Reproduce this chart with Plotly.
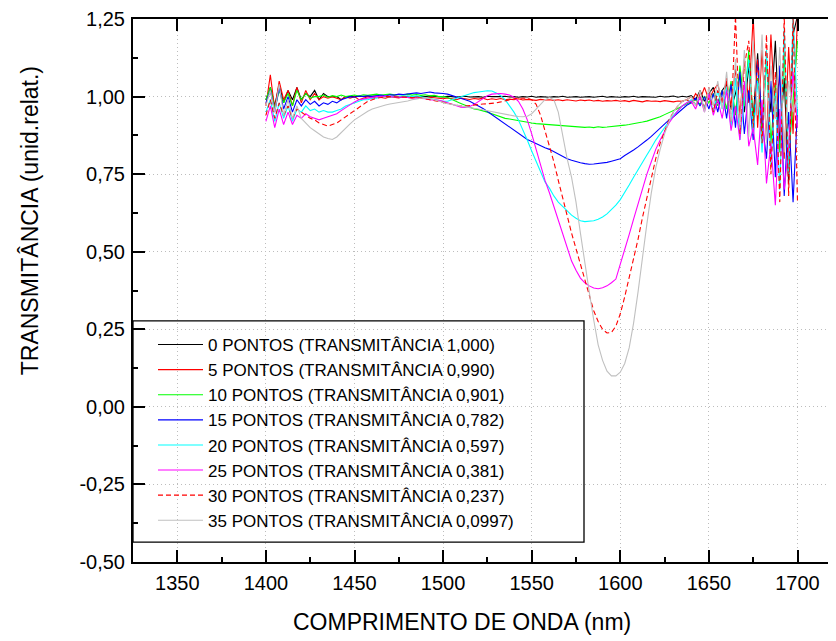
import plotly.graph_objects as go

# ---------------- data ----------------
WAVELENGTH = [1400 + 2.5 * i for i in range(121)]  # nm sampling grid 1400..1700

T_00 = [0.99, 1.03, 0.97, 1.04, 0.98, 1.02, 0.99, 1.03,
        0.99, 1.01, 1.00, 1.02, 0.99, 1.01, 1.00, 1.00,
        1.00, 0.99, 1.00, 1.00, 1.00, 1.00, 1.00, 1.00,
        1.0, 1.002, 0.999, 1.001, 1.0, 1.002, 1.0, 0.999,
        1.001, 1.0, 0.999, 1.001, 1.0, 1.002, 1.0, 1.0,
        0.999, 1.001, 1.0, 0.998, 1.0, 1.001, 0.999, 1.0,
        1.0, 0.998, 1.001, 1.0, 0.999, 1.0, 1.001, 0.999,
        1.0, 0.998, 1.0, 0.999, 1.001, 0.998, 1.0, 0.999,
        0.998, 1.0, 0.999, 1.001, 0.998, 0.999, 1.0, 0.998,
        0.999, 1.0, 0.998, 0.999, 1.001, 0.998, 1.0, 0.999,
        0.998, 1.0, 0.999, 1.001, 0.998, 1.0, 0.999, 1.0,
        0.998, 1.001, 0.999, 1.0, 1.002, 0.998, 1.001, 0.999,
        1.003, 0.99, 1.02, 0.985, 1.01, 1.03, 0.98, 1.02,
        1.04, 0.96, 1.01, 1.07, 0.95, 1.10, 0.93, 1.14,
        0.90, 1.12, 0.95, 1.18, 0.85, 1.06, 0.72, 1.20,
        1.26]

T_05 = [0.97, 1.07, 0.96, 1.05, 0.99, 1.02, 0.97, 1.03,
        0.98, 1.02, 0.99, 1.01, 0.99, 1.00, 0.995, 1.00,
        0.995, 0.99, 1.00, 0.995, 1.0, 0.99, 0.995, 1.0,
        0.995, 1.0, 0.997, 0.995, 1.0, 0.998, 0.996, 1.0,
        0.998, 0.995, 1.0, 0.997, 0.995, 0.998, 0.996, 0.995,
        0.993, 0.996, 0.994, 0.99, 0.995, 0.993, 0.991, 0.994,
        0.992, 0.995, 0.99, 0.993, 0.991, 0.994, 0.99, 0.992,
        0.99, 0.993, 0.989, 0.991, 0.99, 0.988, 0.991, 0.989,
        0.99, 0.988, 0.99, 0.987, 0.99, 0.988, 0.986, 0.989,
        0.987, 0.989, 0.986, 0.988, 0.985, 0.987, 0.986, 0.988,
        0.985, 0.987, 0.984, 0.988, 0.985, 0.983, 0.987, 0.985,
        0.986, 0.984, 0.987, 0.985, 0.983, 0.986, 0.985, 0.99,
        0.98, 1.01, 0.99, 1.03, 0.99, 1.02, 1.04, 0.98,
        1.05, 0.97, 1.09, 0.94, 1.12, 0.98, 1.26, 0.90,
        1.15, 0.86, 1.20, 0.93, 1.08, 0.80, 1.16, 0.88,
        1.26]

T_10 = [0.99, 1.03, 0.96, 1.02, 0.98, 1.01, 0.97, 1.02,
        0.99, 1.01, 0.995, 1.00, 1.0, 1.005, 0.998, 1.003,
        1.0, 1.005, 1.0, 1.003, 1.005, 1.002, 1.006, 1.004,
        1.005, 1.008, 1.005, 1.006, 1.008, 1.006, 1.007, 1.005,
        1.008, 1.005, 1.007, 1.004, 1.006, 1.003, 1.004, 1.0,
        1.0, 0.997, 0.99, 0.985, 0.978, 0.972, 0.966, 0.96,
        0.958, 0.955, 0.95, 0.945, 0.94, 0.935, 0.93, 0.928,
        0.925, 0.922, 0.92, 0.918, 0.915, 0.913, 0.912, 0.91,
        0.909, 0.908, 0.906, 0.905, 0.904, 0.903, 0.902, 0.903,
        0.901, 0.902, 0.9, 0.903, 0.901, 0.902, 0.903, 0.904,
        0.906, 0.908, 0.91, 0.912, 0.915, 0.918, 0.921, 0.925,
        0.93, 0.935, 0.942, 0.948, 0.955, 0.962, 0.97, 0.977,
        0.985, 0.99, 0.975, 1.0, 0.98, 1.01, 0.97, 1.02,
        0.96, 1.05, 0.94, 1.10, 0.97, 1.15, 0.92, 1.06,
        0.88, 1.12, 0.85, 1.04, 0.82, 1.14, 0.80, 0.98,
        1.18]

T_15 = [0.98, 1.02, 0.95, 1.03, 0.96, 1.00, 0.95, 0.99,
        0.97, 0.99, 0.975, 0.985, 0.97, 0.98, 0.975, 0.985,
        0.98, 0.99, 0.995, 1.0, 0.998, 1.002, 1.0, 1.003,
        1.0, 1.003, 1.005, 1.002, 1.006, 1.005, 1.008, 1.007,
        1.009, 1.01, 1.012, 1.01, 1.013, 1.015, 1.012, 1.012,
        1.01, 1.008, 1.004, 1.0, 0.996, 0.99, 0.985, 0.978,
        0.97, 0.962, 0.952, 0.942, 0.932, 0.922, 0.912, 0.9,
        0.89, 0.88, 0.87, 0.862, 0.855, 0.848, 0.84, 0.835,
        0.83, 0.822, 0.815, 0.808, 0.8, 0.795, 0.79, 0.787,
        0.784, 0.782, 0.783, 0.784, 0.786, 0.788, 0.792, 0.796,
        0.8, 0.81, 0.818, 0.828, 0.838, 0.848, 0.86, 0.872,
        0.885, 0.9, 0.912, 0.925, 0.935, 0.948, 0.96, 0.972,
        0.98, 0.995, 0.97, 1.0, 0.96, 1.01, 0.95, 1.02,
        0.93, 1.04, 0.90, 1.08, 0.88, 1.02, 0.86, 1.12,
        0.92, 0.80, 1.05, 0.74, 1.10, 0.68, 0.95, 0.66,
        0.96]

T_20 = [0.95, 0.99, 0.92, 0.98, 0.93, 0.97, 0.92, 0.96,
        0.95, 0.97, 0.955, 0.96, 0.95, 0.955, 0.95, 0.95,
        0.955, 0.96, 0.97, 0.975, 0.98, 0.985, 0.99, 0.99,
        0.995, 0.995, 1.0, 1.0, 1.0, 1.002, 1.0, 1.003,
        1.002, 1.0, 1.003, 1.0, 0.998, 0.995, 0.992, 0.99,
        0.985, 0.985, 0.99, 0.995, 1.0, 1.005, 1.01, 1.013,
        1.015, 1.017, 1.019, 1.018, 1.012, 1.003, 0.99, 0.97,
        0.95, 0.925, 0.895, 0.86, 0.825, 0.79, 0.755, 0.725,
        0.705, 0.68, 0.66, 0.645, 0.63, 0.618, 0.608, 0.6,
        0.597, 0.598, 0.6, 0.605, 0.612, 0.622, 0.635, 0.65,
        0.668, 0.69, 0.715, 0.74, 0.765, 0.79, 0.812, 0.835,
        0.86, 0.88, 0.9, 0.92, 0.94, 0.955, 0.97, 0.98,
        0.99, 0.975, 1.0, 0.965, 1.01, 0.95, 1.02, 0.96,
        1.03, 0.90, 1.06, 0.86, 0.98, 1.12, 0.88, 1.05,
        0.82, 1.15, 0.78, 1.02, 0.70, 1.22, 0.75, 1.26,
        0.94]

T_25 = [0.92, 0.97, 0.90, 0.96, 0.91, 0.95, 0.91, 0.94,
        0.93, 0.945, 0.935, 0.93, 0.925, 0.93, 0.935, 0.94,
        0.945, 0.955, 0.965, 0.975, 0.983, 0.99, 0.993, 0.996,
        0.998, 1.0, 1.0, 1.002, 1.0, 1.0, 0.998, 0.998,
        0.997, 0.996, 0.995, 0.995, 0.993, 0.99, 0.99, 0.988,
        0.985, 0.98, 0.975, 0.97, 0.966, 0.965, 0.968, 0.975,
        0.985, 0.995, 1.003, 1.008, 1.01, 1.01, 1.008, 1.005,
        0.998, 0.985, 0.96, 0.925, 0.88, 0.83, 0.78, 0.73,
        0.69, 0.645, 0.6, 0.555, 0.51, 0.47, 0.44, 0.415,
        0.4, 0.39, 0.383, 0.381, 0.384, 0.39, 0.4, 0.412,
        0.46, 0.505, 0.555, 0.605, 0.655, 0.705, 0.75, 0.79,
        0.83, 0.86, 0.89, 0.915, 0.935, 0.955, 0.97, 0.98,
        0.985, 0.96, 1.0, 0.95, 1.01, 0.94, 0.99, 0.93,
        1.02, 0.89, 0.97, 0.86, 1.05, 0.84, 0.90, 0.78,
        0.99, 0.72, 0.85, 0.65, 0.96, 0.70, 0.84, 1.08,
        0.90]

T_30 = [0.94, 0.99, 0.93, 0.98, 0.94, 0.97, 0.93, 0.96,
        0.95, 0.94, 0.93, 0.925, 0.915, 0.91, 0.905, 0.91,
        0.915, 0.925, 0.935, 0.945, 0.955, 0.965, 0.975, 0.985,
        0.99, 0.995, 0.997, 1.0, 1.0, 1.0, 0.998, 0.998,
        0.998, 0.997, 0.996, 0.995, 0.993, 0.99, 0.988, 0.985,
        0.982, 0.978, 0.975, 0.972, 0.97, 0.97, 0.972, 0.974,
        0.975, 0.976, 0.977, 0.978, 0.98, 0.983, 0.987, 0.99,
        0.993, 0.995, 0.996, 0.995, 0.99, 0.975, 0.94, 0.89,
        0.84, 0.79, 0.73, 0.67, 0.61, 0.56, 0.51, 0.46,
        0.41, 0.36, 0.31, 0.275, 0.25, 0.238, 0.24, 0.26,
        0.3, 0.355, 0.415, 0.475, 0.54, 0.61, 0.675, 0.74,
        0.8, 0.85, 0.89, 0.925, 0.95, 0.97, 0.985, 0.99,
        1.0, 0.97, 1.01, 0.96, 1.03, 0.95, 1.02, 0.98,
        1.06, 0.92, 1.26, 0.88, 1.10, 1.18, 0.90, 1.12,
        0.85, 1.20, 0.75, 1.08, 0.66, 1.26, 0.68, 1.26,
        0.66]

T_35 = [0.97, 1.02, 0.95, 1.04, 0.94, 0.99, 0.93, 0.97,
        0.93, 0.915, 0.9, 0.89, 0.88, 0.87, 0.865, 0.862,
        0.87, 0.885, 0.9, 0.912, 0.925, 0.935, 0.945, 0.953,
        0.96, 0.965, 0.97, 0.973, 0.976, 0.978, 0.98, 0.983,
        0.986, 0.99, 0.993, 0.995, 0.996, 0.995, 0.99, 0.985,
        0.98, 0.977, 0.975, 0.972, 0.97, 0.967, 0.965, 0.962,
        0.96, 0.957, 0.955, 0.952, 0.95, 0.947, 0.944, 0.941,
        0.938, 0.936, 0.935, 0.937, 0.945, 0.96, 0.975, 0.99,
        0.997, 0.99, 0.95, 0.87, 0.8, 0.74, 0.66, 0.56,
        0.46, 0.37, 0.28, 0.2, 0.15, 0.115, 0.1, 0.1,
        0.112, 0.14, 0.19, 0.27, 0.37, 0.49, 0.59, 0.69,
        0.77, 0.83, 0.88, 0.92, 0.95, 0.97, 0.985, 0.99,
        1.0, 0.97, 1.02, 0.95, 1.03, 0.97, 1.05, 0.96,
        1.08, 0.92, 1.12, 0.90, 1.15, 0.87, 1.18, 0.94,
        1.20, 0.85, 1.10, 0.93, 1.16, 0.82, 1.05, 0.95,
        1.0]

SERIES_NAMES = [
    "0 PONTOS (TRANSMITÂNCIA 1,000)",
    "5 PONTOS (TRANSMITÂNCIA 0,990)",
    "10 PONTOS (TRANSMITÂNCIA 0,901)",
    "15 PONTOS (TRANSMITÂNCIA 0,782)",
    "20 PONTOS (TRANSMITÂNCIA 0,597)",
    "25 PONTOS (TRANSMITÂNCIA 0,381)",
    "30 PONTOS (TRANSMITÂNCIA 0,237)",
    "35 PONTOS (TRANSMITÂNCIA 0,0997)",
]
SERIES_VALUES = [T_00, T_05, T_10, T_15, T_20, T_25, T_30, T_35]

X_TICKS = [1350, 1400, 1450, 1500, 1550, 1600, 1650, 1700]
Y_TICKS = [-0.50, -0.25, 0.00, 0.25, 0.50, 0.75, 1.00, 1.25]
Y_TICK_LABELS = ["-0,50", "-0,25", "0,00", "0,25", "0,50", "0,75", "1,00", "1,25"]

X_TITLE = "COMPRIMENTO DE ONDA (nm)"
Y_TITLE = "TRANSMITÂNCIA (unid.relat.)"

# ---------------- styling ----------------
COLORS = ["#000000", "#FF0000", "#00FF00", "#0000FF",
          "#00FFFF", "#FF00FF", "#FF0000", "#C0C0C0"]
DASHES = ["solid"] * 6 + ["5px,3px", "solid"]
FONT = "Liberation Sans, Arial, Helvetica, sans-serif"

# page body has an 8px default margin -> figure is drawn 8px right/down
OFF = 8
W, H = 836 - OFF, 641 - OFF
ML, MT = 133 - OFF, 17 - OFF
PLOT_H = 545
MB = H - MT - PLOT_H
PLOT_W = W - ML

fig = go.Figure()
for name, vals, col, dash in zip(SERIES_NAMES, SERIES_VALUES, COLORS, DASHES):
    fig.add_trace(go.Scatter(
        x=WAVELENGTH, y=vals, name=name, mode="lines",
        line=dict(color=col, width=1.1, dash=dash),
    ))

axis_common = dict(
    showline=True, linecolor="black", linewidth=2,
    ticks="inside", ticklen=12, tickwidth=2, tickcolor="black",
    showgrid=True, gridcolor="#bdbdbd", gridwidth=1, griddash="1px,3px",
    zeroline=False, ticklabeloverflow="allow",
    tickfont=dict(family=FONT, size=20, color="black"),
)

fig.update_xaxes(
    **axis_common,
    range=[1325, 1325 + PLOT_W / 1.772],
    tickmode="array", tickvals=X_TICKS, tickformat="d",
    mirror="ticks",
    ticklabelstandoff=2,
    minor=dict(ticks="inside", ticklen=5, tickwidth=2, tickcolor="black",
               tickmode="linear", tick0=1325, dtick=25, showgrid=False),
)
fig.update_yaxes(
    **axis_common,
    range=[-0.5, 1.2502],
    tickmode="array", tickvals=Y_TICKS, ticktext=Y_TICK_LABELS,
    ticklabelstandoff=2,
    minor=dict(ticks="inside", ticklen=5, tickwidth=2, tickcolor="black",
               tickmode="linear", tick0=-0.5, dtick=0.125, showgrid=False),
)

# legend frame (white box with black border) drawn above the grid, below the curves
LEG_BOX = dict(left=133, right=584, top=320, bottom=542)  # pixel frame in the picture

fig.add_shape(
    type="rect", xref="paper", yref="paper", layer="between",
    x0=(LEG_BOX["left"] - 133) / PLOT_W, x1=(LEG_BOX["right"] - 133) / PLOT_W,
    y0=(562 - LEG_BOX["bottom"]) / PLOT_H, y1=(562 - LEG_BOX["top"]) / PLOT_H,
    fillcolor="white", line=dict(color="black", width=1.3),
)

fig.update_layout(
    width=W, height=H,
    margin=dict(l=ML, r=0, t=MT, b=MB, pad=0),
    paper_bgcolor="white", plot_bgcolor="white",
    font=dict(family=FONT, color="black"),
    showlegend=True,
    legend=dict(
        x=20 / PLOT_W, y=(562 - 432) / PLOT_H, xanchor="left", yanchor="middle",
        bgcolor="rgba(0,0,0,0)", borderwidth=0,
        font=dict(family=FONT, size=17, color="black"),
        itemwidth=45, tracegroupgap=0,
    ),
    annotations=[
        dict(text=X_TITLE, xref="paper", yref="paper",
             x=(462 - 133) / PLOT_W, y=(562 - 622) / PLOT_H,
             xanchor="center", yanchor="middle", showarrow=False,
             font=dict(family=FONT, size=23, color="black")),
        dict(text=Y_TITLE, xref="paper", yref="paper",
             x=(30 - 133) / PLOT_W, y=(562 - 220) / PLOT_H,
             xanchor="center", yanchor="middle", showarrow=False, textangle=-90,
             font=dict(family=FONT, size=23, color="black")),
    ],
)

fig.write_html("out.html")
